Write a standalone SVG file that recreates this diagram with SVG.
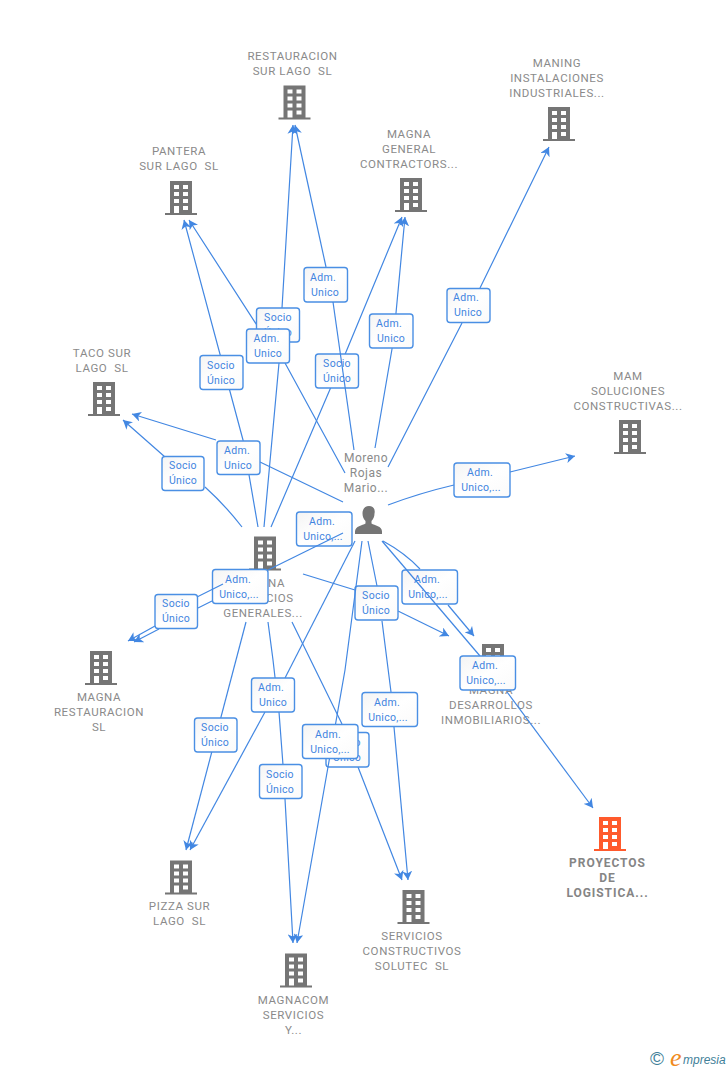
<svg xmlns="http://www.w3.org/2000/svg" width="728" height="1070" viewBox="0 0 728 1070">
<style>
.n{font-family:Roboto,"Liberation Sans",sans-serif;font-size:11.5px;fill:#8a8a8a;text-anchor:middle;white-space:pre;letter-spacing:.6px}
.p{font-size:12px;letter-spacing:.5px}
.h{font-weight:700;font-size:12px;letter-spacing:.95px;fill:#858585}
.e{fill:none;stroke:#4287e2;stroke-width:1.2;marker-end:url(#a)}
.l{fill:none;stroke:#4287e2;stroke-width:1.2}
.b rect{fill:url(#g);stroke:#4a8fe4;stroke-width:1.4}
.b text{font-family:Roboto,"Liberation Sans",sans-serif;font-size:10.5px;fill:#3f84e0;text-anchor:middle;letter-spacing:.3px}
</style>
<defs>
<linearGradient id="g" x1="0" y1="0" x2="1" y2="1"><stop offset="0" stop-color="#f4f4f4"/><stop offset=".5" stop-color="#ffffff"/><stop offset="1" stop-color="#fafafa"/></linearGradient>
<marker id="a" markerUnits="userSpaceOnUse" markerWidth="11" markerHeight="10" refX="9" refY="5" orient="auto"><path d="M0,0L9,5L0,10L2.5,5z" fill="#4287e2"/></marker>
<path id="i" fill-rule="evenodd" d="M-11,-17H11V15H16V17H-16V15H-11zM-7,-13V-9H-2V-13zM2,-13V-9H7V-13zM-7,-6V-2H-2V-6zM2,-6V-2H7V-6zM-7,1V5H-2V1zM2,1V5H7V1zM-7,8V15H-2V8zM2,8V12H7V8z"/>
</defs>
<rect width="728" height="1070" fill="#fff"/>
<g id="n1"><use href="#i" x="294.500" y="102.500" fill="#757575"/><text class="n" x="292.500" y="60">RESTAURACION</text><text class="n" x="292.500" y="75">SUR LAGO  SL</text></g>
<g id="n2"><use href="#i" x="559" y="124" fill="#757575"/><text class="n" x="557" y="67">MANING</text><text class="n" x="557" y="82">INSTALACIONES</text><text class="n" x="557" y="97">INDUSTRIALES...</text></g>
<g id="n3"><use href="#i" x="181" y="198" fill="#757575"/><text class="n" x="179" y="155">PANTERA</text><text class="n" x="179" y="170">SUR LAGO  SL</text></g>
<g id="n4"><use href="#i" x="411" y="195" fill="#757575"/><text class="n" x="409" y="138">MAGNA</text><text class="n" x="409" y="153">GENERAL</text><text class="n" x="409" y="168">CONTRACTORS...</text></g>
<g id="n5"><use href="#i" x="104" y="399" fill="#757575"/><text class="n" x="102" y="357">TACO SUR</text><text class="n" x="102" y="372">LAGO  SL</text></g>
<g id="n6"><use href="#i" x="630" y="437" fill="#757575"/><text class="n" x="628" y="380">MAM</text><text class="n" x="628" y="395">SOLUCIONES</text><text class="n" x="628" y="410">CONSTRUCTIVAS...</text></g>
<g id="n7"><path fill="#757575" d="M369,506c-4,0-6.500,3-6.500,7.500c0,3,1.200,5.500,3,7.500v2.500c-3,2-10.500,2.500-10.500,8v2.500h27v-2.500c0-5.500-7.500-6-10.500-8V521c1.800-2,3-4.500,3-7.500C375.500,509,373,506,369,506z"/><text class="n p" x="366" y="462">Moreno</text><text class="n p" x="366" y="477">Rojas</text><text class="n p" x="366" y="492">Mario...</text></g>
<g id="n8"><use href="#i" x="265" y="553.500" fill="#757575"/><text class="n" x="263" y="587">MAGNA</text><text class="n" x="263" y="602">SERVICIOS</text><text class="n" x="263" y="617">GENERALES...</text></g>
<g id="n9"><use href="#i" x="101" y="668" fill="#757575"/><text class="n" x="99" y="701">MAGNA</text><text class="n" x="99" y="716">RESTAURACION</text><text class="n" x="99" y="731">SL</text></g>
<g id="n10"><use href="#i" x="493" y="661" fill="#757575"/><text class="n" x="491" y="694">MAGNA</text><text class="n" x="491" y="709">DESARROLLOS</text><text class="n" x="491" y="724">INMOBILIARIOS...</text></g>
<g id="n11"><use href="#i" x="610" y="834" fill="#ff5a2c"/><text class="n h" x="607.500" y="867">PROYECTOS</text><text class="n h" x="607.500" y="882">DE</text><text class="n h" x="607.500" y="897">LOGISTICA...</text></g>
<g id="n12"><use href="#i" x="181" y="877.500" fill="#757575"/><text class="n" x="179.500" y="910">PIZZA SUR</text><text class="n" x="179.500" y="925">LAGO  SL</text></g>
<g id="n13"><use href="#i" x="413.500" y="907" fill="#757575"/><text class="n" x="412" y="940">SERVICIOS</text><text class="n" x="412" y="955">CONSTRUCTIVOS</text><text class="n" x="412" y="970">SOLUTEC  SL</text></g>
<g id="n14"><use href="#i" x="296" y="970.500" fill="#757575"/><text class="n" x="293.500" y="1004">MAGNACOM</text><text class="n" x="293.500" y="1019">SERVICIOS</text><text class="n" x="293.500" y="1034">Y...</text></g>
<g id="connectors">
<path class="e" d="M264,527L279,363L282,308L293,125"/>
<path class="e" d="M258,527L243,440L184,220"/>
<path class="e" d="M242,527Q225,505 205,487M165,457L123,420"/>
<path class="e" d="M271,527L346,352L402,217"/>
<path class="e" d="M345,473L285,363M260,330L189,220"/>
<path class="e" d="M343,502L260,462M216,440L132,414"/>
<path class="e" d="M375,448L392,349L396,313L405,217"/>
<path class="e" d="M388,467L462,323M480,288L549,147"/>
<path class="e" d="M388,505Q420,493 454,485M510,472L575,456"/>
<g class="b"><rect x="256.500" y="308" width="43" height="34" rx="3"/><text x="278" y="321">Socio</text><text x="278" y="336">Único</text></g>
<g class="b"><rect x="246.500" y="329" width="43" height="34" rx="3"/><text x="266.500" y="342">Adm.</text><text x="268" y="357">Unico</text></g>
<g class="b"><rect x="304" y="267.500" width="43.500" height="34.500" rx="3"/><text x="323" y="281">Adm.</text><text x="325" y="296">Unico</text></g>
<g class="b"><rect x="315.500" y="354" width="43" height="34" rx="3"/><text x="337" y="367">Socio</text><text x="337" y="382">Único</text></g>
<path class="l" d="M354,450L333,302"/>
<path class="e" d="M326,267L295,125"/>
<g class="b"><rect x="369.500" y="314" width="43.500" height="34" rx="3"/><text x="389" y="327">Adm.</text><text x="391" y="342">Unico</text></g>
<g class="b"><rect x="447" y="288.500" width="43" height="34" rx="3"/><text x="466" y="301">Adm.</text><text x="468" y="316">Unico</text></g>
<g class="b"><rect x="200" y="355.500" width="43" height="34" rx="3"/><text x="221" y="369">Socio</text><text x="221" y="384">Único</text></g>
<g class="b"><rect x="217" y="441" width="43" height="33.500" rx="3"/><text x="237" y="454">Adm.</text><text x="238" y="469">Unico</text></g>
<g class="b"><rect x="162" y="456.500" width="42" height="34" rx="3"/><text x="183" y="469">Socio</text><text x="183" y="484">Único</text></g>
<g class="b"><rect x="296.500" y="512" width="55.500" height="34" rx="3"/><text x="322" y="525">Adm.</text><text x="323" y="540">Unico,...</text></g>
<path class="l" d="M343,533L268,570"/>
<path class="l" d="M212,601L198,608"/>
<path class="e" d="M159,629L134,642"/>
<g class="b"><rect x="212.500" y="569.500" width="55.500" height="34" rx="3"/><text x="238" y="583">Adm.</text><text x="239" y="598">Unico,...</text></g>
<path class="l" d="M223,584L197,597"/>
<path class="e" d="M155,626L128,641"/>
<g class="b"><rect x="155" y="594.500" width="42.500" height="34" rx="3"/><text x="176" y="607">Socio</text><text x="176" y="622">Único</text></g>
<g class="b"><rect x="454" y="463" width="56" height="34" rx="3"/><text x="480" y="476">Adm.</text><text x="481" y="491">Unico,...</text></g>
<path class="l" d="M383,541Q405,553 420,569"/>
<path class="e" d="M448,605L474,636"/>
<g class="b"><rect x="402" y="570" width="55.500" height="34" rx="3"/><text x="427" y="583">Adm.</text><text x="428" y="598">Unico,...</text></g>
<path class="l" d="M382,541L480,656"/>
<path class="l" d="M303,574L355,590"/>
<path class="e" d="M398,611L449,636"/>
<path class="l" d="M368,541L377,586M382,621L391,692"/>
<path class="l" d="M355,541L285,678"/>
<g class="b"><rect x="355" y="586" width="43" height="34" rx="3"/><text x="376" y="599">Socio</text><text x="376" y="614">Único</text></g>
<path class="e" d="M507,692L593,808"/>
<g class="b"><rect x="460" y="656" width="55.500" height="34" rx="3"/><text x="485" y="669">Adm.</text><text x="486" y="684">Unico,...</text></g>
<path class="e" d="M394,727L408,880"/>
<g class="b"><rect x="362" y="692.500" width="55.500" height="34" rx="3"/><text x="387" y="706">Adm.</text><text x="388" y="721">Unico,...</text></g>
<path class="e" d="M292,622L342,724M358,767L402,880"/>
<g class="b"><rect x="326" y="732.500" width="43" height="34.500" rx="3"/><text x="347" y="746">Socio</text><text x="347" y="761">Único</text></g>
<path class="e" d="M362,541L345,670L328,767L297,943"/>
<g class="b"><rect x="302.500" y="724.500" width="55.500" height="34" rx="3"/><text x="328" y="738">Adm.</text><text x="330" y="753">Unico,...</text></g>
<path class="e" d="M268,622L273,660L279,712L283,765L285,799L293,943"/>
<path class="e" d="M265,712L190,850"/>
<g class="b"><rect x="251.500" y="678" width="43" height="34" rx="3"/><text x="271" y="691">Adm.</text><text x="273" y="706">Unico</text></g>
<path class="e" d="M246,622L186,850"/>
<g class="b"><rect x="194.500" y="718" width="42.500" height="34" rx="3"/><text x="215" y="731">Socio</text><text x="215" y="746">Único</text></g>
<g class="b"><rect x="259.500" y="764.500" width="42.500" height="34" rx="3"/><text x="280" y="778">Socio</text><text x="280" y="793">Único</text></g>
</g>
<g id="logo"><text x="650" y="1065" font-family="'Liberation Sans',sans-serif" font-size="19" fill="#3f7f99">©</text><text x="670" y="1066" font-family="'Liberation Serif',serif" font-style="italic" font-size="26" fill="#f08a1d">e</text><text x="683" y="1064" font-family="'Liberation Sans',sans-serif" font-style="italic" font-size="12" fill="#3f7f99">mpresia</text></g>
</svg>
